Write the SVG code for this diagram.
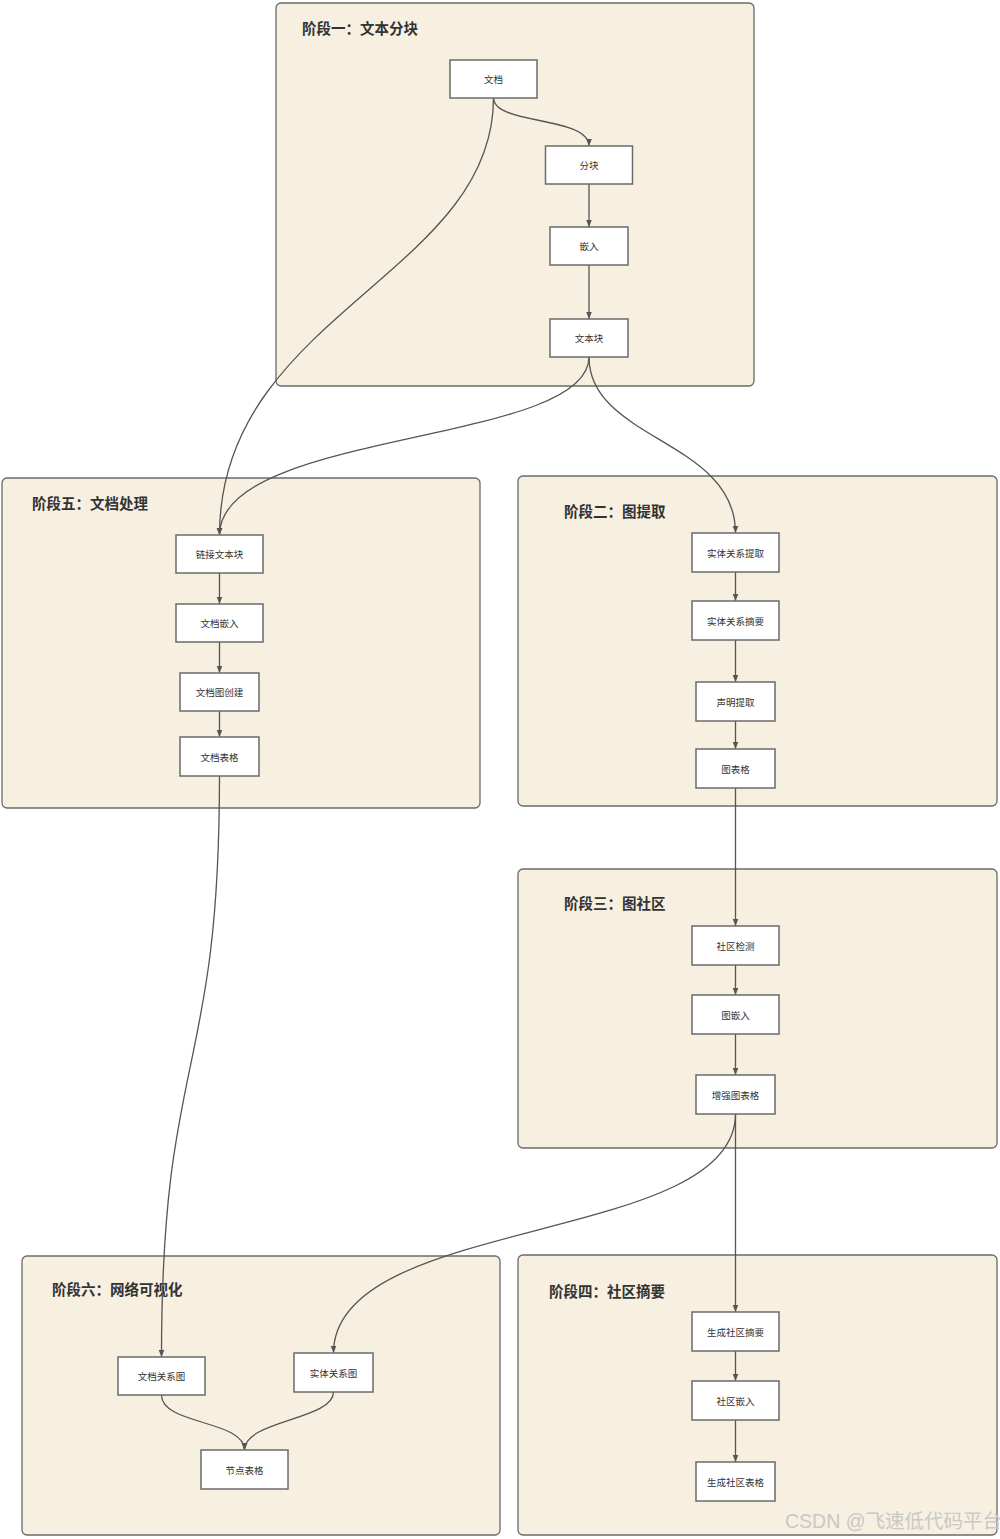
<svg xmlns="http://www.w3.org/2000/svg" width="1000" height="1539" viewBox="0 0 1000 1539">
<style>
.cl{fill:#f7efdf;stroke:#6b6b6b;stroke-width:1.3}
.nd{fill:#ffffff;stroke:#6b6b6b;stroke-width:1.5}
.tt{font-family:"Noto Sans CJK SC","Liberation Sans",sans-serif;font-size:14.5px;font-weight:bold;fill:#333}
.tx{font-family:"Noto Sans CJK SC","Liberation Sans",sans-serif;font-size:9.5px;fill:#333;text-anchor:middle;dominant-baseline:central}
.ed{fill:none;stroke:#555;stroke-width:1.3;marker-end:url(#ar)}
.wm{font-family:"Liberation Sans","Noto Sans CJK SC",sans-serif;font-size:19.5px;fill:#c8c8c8}
</style>
<defs>
<marker id="ar" viewBox="0 0 10 10" refX="10" refY="5" markerWidth="7" markerHeight="7" orient="auto" markerUnits="userSpaceOnUse">
<path d="M0,1 L10,5 L0,9 Z" fill="#555"/>
</marker>
</defs>
<rect width="1000" height="1539" fill="#ffffff"/>
<g id="clusters">
<g id="stage1"><rect class="cl" x="276" y="3" width="478" height="383" rx="5"/><text class="tt" x="302" y="34">阶段一：文本分块</text></g>
<g id="stage5"><rect class="cl" x="2" y="478" width="478" height="330" rx="5"/><text class="tt" x="32" y="509">阶段五：文档处理</text></g>
<g id="stage2"><rect class="cl" x="518" y="476" width="479" height="330" rx="5"/><text class="tt" x="564" y="517">阶段二：图提取</text></g>
<g id="stage3"><rect class="cl" x="518" y="869" width="479" height="279" rx="5"/><text class="tt" x="564" y="909">阶段三：图社区</text></g>
<g id="stage6"><rect class="cl" x="22" y="1256" width="478" height="279" rx="5"/><text class="tt" x="52" y="1295">阶段六：网络可视化</text></g>
<g id="stage4"><rect class="cl" x="518" y="1255" width="479" height="280" rx="5"/><text class="tt" x="549" y="1297">阶段四：社区摘要</text></g>
</g>
<g id="connectors">
<path class="ed" d="M493.5,98 C493.5,125 589,116 589,146"/>
<path class="ed" d="M493.5,98 C493.5,275 219.5,315 219.5,535"/>
<path class="ed" d="M589,184 L589,227"/>
<path class="ed" d="M589,265 L589,319"/>
<path class="ed" d="M589,357 C589,445 219.5,430 219.5,535"/>
<path class="ed" d="M589,357 C589,440 735.5,440 735.5,533"/>
<path class="ed" d="M219.5,573 L219.5,604"/>
<path class="ed" d="M219.5,642 L219.5,673"/>
<path class="ed" d="M219.5,711 L219.5,737"/>
<path class="ed" d="M735.5,572 L735.5,601"/>
<path class="ed" d="M735.5,640 L735.5,682"/>
<path class="ed" d="M735.5,721 L735.5,749"/>
<path class="ed" d="M735.5,788 L735.5,926"/>
<path class="ed" d="M735.5,965 L735.5,995"/>
<path class="ed" d="M735.5,1034 L735.5,1075"/>
<path class="ed" d="M735.5,1114 L735.5,1312"/>
<path class="ed" d="M735.5,1114 C735.5,1245 333.5,1215 333.5,1353"/>
<path class="ed" d="M735.5,1351 L735.5,1381"/>
<path class="ed" d="M735.5,1420 L735.5,1462"/>
<path class="ed" d="M219.5,776 C219.5,1080 161.5,1050 161.5,1357"/>
<path class="ed" d="M161.5,1395 C161.5,1425 244.5,1420 244.5,1450"/>
<path class="ed" d="M333.5,1392 C333.5,1420 244.5,1420 244.5,1450"/>
</g>
<g id="n_doc"><rect class="nd" x="450" y="60" width="87" height="38"/><text class="tx" x="493.5" y="79">文档</text></g>
<g id="n_chunk"><rect class="nd" x="545.5" y="146" width="87" height="38"/><text class="tx" x="589" y="165">分块</text></g>
<g id="n_embed"><rect class="nd" x="550" y="227" width="78" height="38"/><text class="tx" x="589" y="246">嵌入</text></g>
<g id="n_textunit"><rect class="nd" x="550" y="319" width="78" height="38"/><text class="tx" x="589" y="338">文本块</text></g>
<g id="n_link"><rect class="nd" x="176" y="535" width="87" height="38"/><text class="tx" x="219.5" y="554">链接文本块</text></g>
<g id="n_docembed"><rect class="nd" x="176" y="604" width="87" height="38"/><text class="tx" x="219.5" y="623">文档嵌入</text></g>
<g id="n_docgraph"><rect class="nd" x="180" y="673" width="79" height="38"/><text class="tx" x="219.5" y="692">文档图创建</text></g>
<g id="n_doctable"><rect class="nd" x="180" y="737" width="79" height="39"/><text class="tx" x="219.5" y="756.5">文档表格</text></g>
<g id="n_extract"><rect class="nd" x="692" y="533" width="87" height="39"/><text class="tx" x="735.5" y="552.5">实体关系提取</text></g>
<g id="n_summ"><rect class="nd" x="692" y="601" width="87" height="39"/><text class="tx" x="735.5" y="620.5">实体关系摘要</text></g>
<g id="n_claim"><rect class="nd" x="696" y="682" width="79" height="39"/><text class="tx" x="735.5" y="701.5">声明提取</text></g>
<g id="n_graphtable"><rect class="nd" x="696" y="749" width="79" height="39"/><text class="tx" x="735.5" y="768.5">图表格</text></g>
<g id="n_detect"><rect class="nd" x="692" y="926" width="87" height="39"/><text class="tx" x="735.5" y="945.5">社区检测</text></g>
<g id="n_gembed"><rect class="nd" x="692" y="995" width="87" height="39"/><text class="tx" x="735.5" y="1014.5">图嵌入</text></g>
<g id="n_aug"><rect class="nd" x="696" y="1075" width="79" height="39"/><text class="tx" x="735.5" y="1094.5">增强图表格</text></g>
<g id="n_gensumm"><rect class="nd" x="692" y="1312" width="87" height="39"/><text class="tx" x="735.5" y="1331.5">生成社区摘要</text></g>
<g id="n_cembed"><rect class="nd" x="692" y="1381" width="87" height="39"/><text class="tx" x="735.5" y="1400.5">社区嵌入</text></g>
<g id="n_ctable"><rect class="nd" x="696" y="1462" width="79" height="39"/><text class="tx" x="735.5" y="1481.5">生成社区表格</text></g>
<g id="n_docrel"><rect class="nd" x="118" y="1357" width="87" height="38"/><text class="tx" x="161.5" y="1376">文档关系图</text></g>
<g id="n_entrel"><rect class="nd" x="294" y="1353" width="79" height="39"/><text class="tx" x="333.5" y="1372.5">实体关系图</text></g>
<g id="n_nodetable"><rect class="nd" x="201" y="1450" width="87" height="39"/><text class="tx" x="244.5" y="1469.5">节点表格</text></g>
<text class="wm" x="785" y="1528">CSDN @飞速低代码平台</text>
</svg>
